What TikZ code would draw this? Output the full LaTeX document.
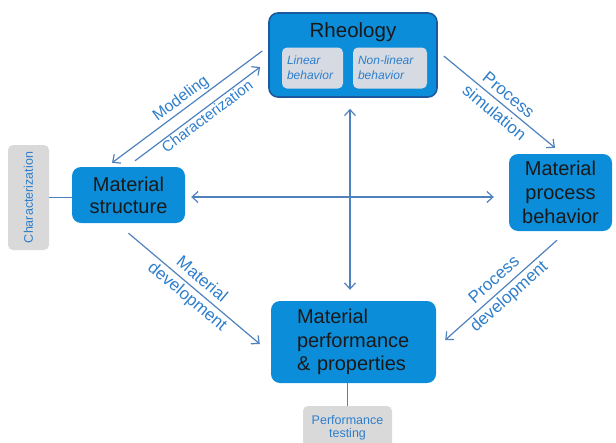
\documentclass[tikz,border=0pt]{standalone}
\usepackage{fontspec}
\setmainfont{Liberation Sans}
\usetikzlibrary{arrows.meta}
\definecolor{boxblue}{RGB}{12,141,217}
\definecolor{rheoedge}{RGB}{28,88,158}
\definecolor{arrowblue}{RGB}{79,129,189}
\definecolor{labelblue}{RGB}{46,126,204}
\definecolor{panelgray}{RGB}{217,217,217}
\definecolor{innergray}{RGB}{214,219,227}

\tikzset{
  mainbox/.style={fill=boxblue, rounded corners=9pt, inner sep=0pt, align=center,
    text=black!90, font=\fontsize{20}{22}\selectfont},
  innerbox/.style={fill=innergray, rounded corners=5pt, inner ysep=0pt, inner xsep=5pt,
    minimum height=41pt, align=left, text=labelblue, font=\fontsize{12}{15}\selectfont\itshape},
  graybox/.style={fill=panelgray, rounded corners=5pt, inner sep=0pt, align=center,
    text=labelblue, font=\fontsize{12}{13}\selectfont},
  link/.style={draw=arrowblue, line width=1.2pt, >={Straight Barb[length=6pt,width=11pt]}},
  linklabel/.style={text=labelblue, font=\fontsize{17}{22.5}\selectfont, align=center, sloped}
}

\begin{document}
\begin{tikzpicture}[x=1pt,y=-1pt]
\clip (0,0) rectangle (616,442);

% boxes
\node[mainbox, draw=rheoedge, line width=1.6pt, minimum width=168pt, minimum height=84pt] (rheo) at (353,55) {};
\node[anchor=base, font=\fontsize{20.5}{22}\selectfont, text=black!90] (rheotitle) at (353,37) {Rheology};
\node[innerbox, text width=51pt] (linear) at (312.5,68) {Linear\\behavior};
\node[innerbox, text width=64pt] (nonlinear) at (390,68) {Non-linear\\behavior};

\node[mainbox, minimum width=113pt, minimum height=56pt] (struct) at (128.5,195) {Material\\structure};
\node[mainbox, minimum width=103pt, minimum height=77pt, font=\fontsize{20}{24}\selectfont] (procbeh) at (560.5,192.5) {Material\\process\\behavior};
\node[mainbox, minimum width=165pt, minimum height=82pt, text width=113pt, align=left, font=\fontsize{20}{23.5}\selectfont] (perf) at (353.5,342) {Material\\performance\\\& properties};

\node[graybox, minimum width=41pt, minimum height=105pt] (charbox) at (28.5,197.5) {};
\node[rotate=90, text=labelblue, font=\fontsize{12.5}{13}\selectfont] (chartext) at (charbox.center) {Characterization};
\node[graybox, minimum width=89pt, minimum height=44pt, font=\fontsize{12.5}{13.5}\selectfont] (testbox) at (347.5,428) {Performance\\testing};

% connectors
\draw[link] (charbox.east) -- (struct.west |- charbox.east);
\draw[link] (testbox.north) -- (testbox.north |- perf.south);

\draw[link,->] ([xshift=-6pt,yshift=4pt]rheo.west) -- ([xshift=-16.5pt,yshift=4pt]struct.north)
  node[linklabel, midway, above, inner sep=2pt, font=\fontsize{16}{18}\selectfont] {Modeling};
\draw[link,->] ([xshift=6.5pt,yshift=6pt]struct.north) -- ([xshift=-8pt,yshift=-12pt]rheo.west)
  node[linklabel, pos=0.54, below, inner sep=1.5pt, font=\fontsize{15}{18}\selectfont] {Characterization};
\draw[link,->] ([xshift=6pt,yshift=-1pt]rheo.east) -- ([xshift=-5.5pt,yshift=6pt]procbeh.north)
  node[linklabel, pos=0.52] {Process\\simulation};
\draw[link,<->] ([xshift=6pt,yshift=-2pt]struct.east) -- ([xshift=-15pt,yshift=-4.5pt]procbeh.west);
\draw[link,<->] ([xshift=-3pt,yshift=-11pt]rheo.south) -- ([xshift=-3.5pt,yshift=11pt]perf.north);
\draw[link,->] ([yshift=-10pt]struct.south) -- ([xshift=-11pt,yshift=-2pt]perf.west)
  node[linklabel, midway] {Material\\development};
\draw[link,->] ([xshift=-3.5pt,yshift=-9pt]procbeh.south) -- ([xshift=9pt,yshift=2pt]perf.east)
  node[linklabel, pos=0.49] {Process\\development};
\end{tikzpicture}
\end{document}
